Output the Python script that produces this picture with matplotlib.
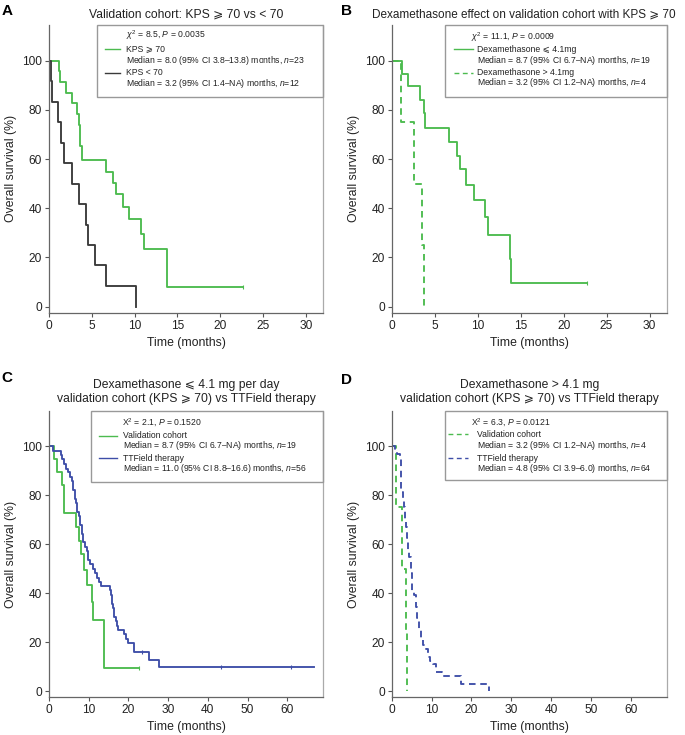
import numpy as np
import matplotlib
matplotlib.use("Agg")
import matplotlib.pyplot as plt
from matplotlib.patches import Rectangle

plt.rcParams["font.family"] = ["Liberation Sans", "DejaVu Sans"]
plt.rcParams["mathtext.fontset"] = "custom"
plt.rcParams["mathtext.rm"] = "Liberation Sans"
plt.rcParams["mathtext.it"] = "Liberation Sans:italic"

GREEN = "#4cbb4f"
BLACK = "#3a3a3a"
BLUE = "#3e4ea8"

# ── Kaplan-Meier step data (time in months, survival in %) ──
kps_hi_t = [0, 1.15, 1.25, 2.0, 2.7, 3.3, 3.45, 3.65, 3.8, 6.6, 7.5, 7.8, 8.6, 9.4, 10.8, 11.1, 13.8, 22.7]
kps_hi_s = [100, 95.7, 91.3, 87.0, 82.6, 78.3, 73.9, 65.2, 59.5, 54.9, 50.3, 45.9, 40.5, 35.5, 29.6, 23.5, 7.9, 7.9]

kps_lo_t = [0, 0.25, 0.4, 1.1, 1.4, 1.7, 2.7, 3.45, 4.3, 4.55, 5.35, 6.7, 10.2]
kps_lo_s = [100, 91.7, 83.3, 75.0, 66.7, 58.3, 50.0, 41.7, 33.3, 25.0, 16.7, 8.3, 0]

dex_lo_t = [0, 1.15, 1.95, 3.35, 3.75, 3.85, 6.7, 7.55, 7.95, 8.7, 9.6, 10.85, 11.15, 13.8, 13.9, 22.7]
dex_lo_s = [100, 94.7, 89.5, 84.2, 78.9, 72.7, 67.1, 61.4, 56.1, 49.6, 43.5, 36.5, 28.9, 19.5, 9.6, 9.6]

dex_hi_t = [0, 1.1, 2.65, 3.55, 3.8]
dex_hi_s = [100, 75, 50, 25, 0]

tt_lo_t = [0, 0.92, 3.02, 3.35, 3.77, 4.19, 4.86, 5.28, 5.70, 6.11, 6.53, 6.78, 7.12, 7.45, 7.79,
           8.21, 8.63, 9.05, 9.46, 9.72, 10.3, 10.97, 11.56, 12.14, 12.65, 13.07, 15.33, 15.58,
           15.91, 16.16, 16.42, 16.75, 17.0, 17.25, 18.93, 19.51, 19.93, 21.36, 25.2, 27.7, 66.8]
tt_lo_s = [100, 98.2, 96.4, 94.6, 92.9, 90.8, 89.3, 87.5, 85.7, 82.1, 78.6, 76.8, 73.2, 71.4, 67.9,
           64.3, 60.7, 58.9, 57.1, 53.6, 51.8, 50.0, 48.2, 46.4, 44.6, 42.9, 41.1, 39.3,
           35.7, 33.9, 30.4, 28.6, 26.8, 25.0, 23.2, 21.4, 19.6, 16.1, 12.9, 9.8, 9.8]
tt_lo_cens = [23.5, 43.4, 60.9]

tt_hi_t = [0, 0.84, 1.26, 2.1, 2.26, 2.94, 3.19, 3.36, 3.6, 3.94, 4.19, 4.45, 4.78, 5.03, 5.62,
           6.04, 6.46, 6.88, 7.3, 7.8, 8.64, 9.23, 9.65, 10.3, 11.07, 12.58, 17.4, 24.3]
tt_hi_s = [100, 98.4, 96.9, 95.3, 81.3, 78.1, 75.0, 70.3, 67.2, 62.5, 57.8, 54.7, 48.4, 40.6, 39.1,
           34.4, 29.7, 25.0, 21.9, 18.8, 17.2, 14.1, 12.5, 10.9, 7.8, 6.25, 3.1, 0]

# ── figure ──
fig = plt.figure(figsize=(6.85, 7.35), dpi=100)
W, H = 685, 735


def add_axes(left, top, right, bottom):
    return fig.add_axes([left / W, 1 - bottom / H, (right - left) / W, (bottom - top) / H])


axA = add_axes(49, 25, 323, 312.7)
axB = add_axes(391.7, 25, 666.7, 312.7)
axC = add_axes(49, 410.7, 323, 697.3)
axD = add_axes(391.7, 410.7, 666.7, 697.3)


def style_axes(ax, xmax, xticks):
    ax.set_xlim(0, xmax)
    ax.set_ylim(-2.5, 114.5)
    ax.set_xticks(xticks)
    ax.set_yticks([0, 20, 40, 60, 80, 100])
    ax.tick_params(labelsize=8.6, length=3, width=0.8, colors="#555555", labelcolor="#222222", pad=2)
    ax.spines["top"].set_visible(False)
    for s in ["left", "bottom"]:
        ax.spines[s].set_color("#666666")
        ax.spines[s].set_linewidth(0.9)
    ax.spines["right"].set_color("#aaaaaa")
    ax.spines["right"].set_linewidth(0.9)
    ax.set_ylabel("Overall survival (%)", fontsize=8.8, color="#222222")
    ax.set_xlabel("Time (months)", fontsize=8.8, color="#222222")
    ax.yaxis.set_label_coords(-0.115, 0.5)
    ax.xaxis.set_label_coords(0.5, -0.083)


def km(ax, t, s, color, ls="-", cens=None):
    line, = ax.step(t, s, where="post", color=color, lw=1.35, ls=ls)
    if ls == "--":
        line.set_dashes((3.5, 2.5))
    if cens:
        idx = np.searchsorted(t, cens, side="right") - 1
        ax.plot(cens, np.array(s)[idx], "|", color=color, ms=3, mew=0.8)


def legend_box(ax, box_left, box_bottom, hdr_x, text_x, line_x, ys, header, entries):
    tr = ax.transAxes
    ax.add_patch(Rectangle((box_left, box_bottom), 1 - box_left, 1 - box_bottom, transform=tr,
                           fill=False, edgecolor="#999999", lw=1.0, clip_on=False, zorder=5))
    fs = 6.2
    ax.text(hdr_x, ys[0], header, transform=tr, fontsize=fs, va="center", color="#222222")
    for k, (color, ls, name, median) in enumerate(entries):
        y1, y2 = ys[1 + 2 * k], ys[2 + 2 * k]
        ln, = ax.plot(line_x, [y1, y1], transform=tr, color=color, lw=1.0, ls=ls, clip_on=False)
        if ls == "--":
            ln.set_dashes((3.5, 2.5))
        ax.text(text_x, y1, name, transform=tr, fontsize=fs, va="center", color="#222222")
        ax.text(text_x, y2, median, transform=tr, fontsize=fs, va="center", color="#222222")


def title(ax, txt, y, fs=8.7):
    ax.text(0.5, y, txt, transform=ax.transAxes, ha="center", va="center", fontsize=fs,
            color="#222222", linespacing=1.25)


# A
style_axes(axA, 32, [0, 5, 10, 15, 20, 25, 30])
km(axA, kps_hi_t, kps_hi_s, GREEN, cens=[22.7])
km(axA, kps_lo_t, kps_lo_s, BLACK)
title(axA, "Validation cohort: KPS \u2a7e 70 vs < 70", 1.035)
legend_box(axA, 0.175, 0.75, 0.281, 0.281, [0.204, 0.259],
           [0.965, 0.916, 0.876, 0.834, 0.797],
           r"$\chi^2$ = 8.5, $P$ = 0.0035",
           [(GREEN, "-", "KPS \u2a7e 70", r"Median = 8.0 (95% CI 3.8–13.8) months, $n$=23"),
            (BLACK, "-", "KPS < 70", r"Median = 3.2 (95% CI 1.4–NA) months, $n$=12")])

# B
style_axes(axB, 32, [0, 5, 10, 15, 20, 25, 30])
km(axB, dex_lo_t, dex_lo_s, GREEN, cens=[22.7])
km(axB, dex_hi_t, dex_hi_s, GREEN, ls="--")
axB.text(0.48, 1.035, "Dexamethasone effect on validation cohort with KPS \u2a7e 70",
         transform=axB.transAxes, ha="center", va="center", fontsize=8.5, color="#222222")
legend_box(axB, 0.194, 0.751, 0.29, 0.309, [0.228, 0.297],
           [0.957, 0.916, 0.875, 0.834, 0.8],
           r"$\chi^2$ = 11.1, $P$ = 0.0009",
           [(GREEN, "-", "Dexamethasone \u2a7d 4.1mg", r"Median = 8.7 (95% CI 6.7–NA) months, $n$=19"),
            (GREEN, "--", "Dexamethasone > 4.1mg", r"Median = 3.2 (95% CI 1.2–NA) months, $n$=4")])

# C
style_axes(axC, 69, [0, 10, 20, 30, 40, 50, 60])
km(axC, dex_lo_t, dex_lo_s, GREEN, cens=[22.7])
km(axC, tt_lo_t, tt_lo_s, BLUE, cens=tt_lo_cens)
title(axC, "Dexamethasone \u2a7d 4.1 mg per day\nvalidation cohort (KPS \u2a7e 70) vs TTField therapy", 1.065)
legend_box(axC, 0.153, 0.752, 0.265, 0.271, [0.182, 0.247],
           [0.958, 0.913, 0.877, 0.834, 0.797],
           r"X$^2$ = 2.1, $P$ = 0.1520",
           [(GREEN, "-", "Validation cohort", r"Median = 8.7 (95% CI 6.7–NA) months, $n$=19"),
            (BLUE, "-", "TTField therapy", r"Median = 11.0 (95% CI 8.8–16.6) months, $n$=56")])

# D
style_axes(axD, 69, [0, 10, 20, 30, 40, 50, 60])
km(axD, dex_hi_t, dex_hi_s, GREEN, ls="--")
km(axD, tt_hi_t, tt_hi_s, BLUE, ls="--")
title(axD, "Dexamethasone > 4.1 mg\nvalidation cohort (KPS \u2a7e 70) vs TTField therapy", 1.065)
legend_box(axD, 0.194, 0.758, 0.29, 0.309, [0.206, 0.279],
           [0.958, 0.918, 0.877, 0.834, 0.797],
           r"X$^2$ = 6.3, $P$ = 0.0121",
           [(GREEN, "--", "Validation cohort", r"Median = 3.2 (95% CI 1.2–NA) months, $n$=4"),
            (BLUE, "--", "TTField therapy", r"Median = 4.8 (95% CI 3.9–6.0) months, $n$=64")])

for lab, x, y in [("A", 7, 11), ("B", 347, 11), ("C", 7, 378), ("D", 347, 380)]:
    fig.text(x / W, 1 - y / H, lab, fontsize=11, fontweight="bold", ha="center", va="center")

fig.savefig("out.png", dpi=100)
